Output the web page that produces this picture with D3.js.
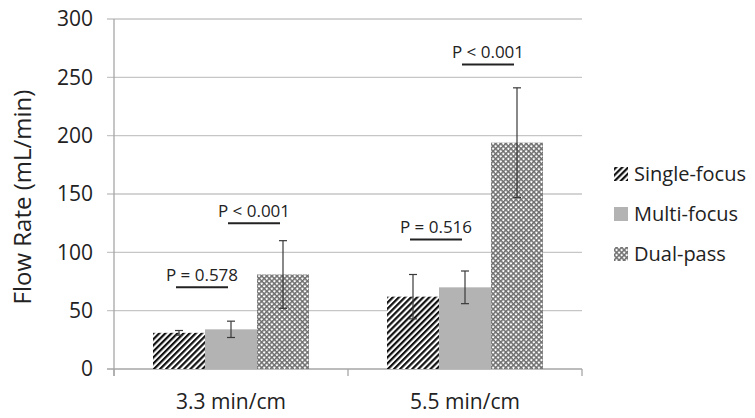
<!DOCTYPE html>
<html>
<head>
<meta charset="utf-8">
<script src="https://cdn.jsdelivr.net/npm/d3@7"></script>
<style>
  body { margin: 0; background: #fff; }
  svg { display: block; font-family: "Open Sans", sans-serif; }
  text { fill: #222; }
</style>
</head>
<body>
<div id="chart"></div>
<script>
const CATEGORIES = ['3.3 min/cm', '5.5 min/cm']
const SERIES = ['Single-focus', 'Multi-focus', 'Dual-pass']
// means and standard deviations, one array per category (in SERIES order)
const MEANS = [[31, 34, 81], [62, 70, 194]]
const ERRORS = [[2, 7, 29], [19, 14, 47]]
const Y_TICKS = [0, 50, 100, 150, 200, 250, 300]
// p-value brackets: category, from series, to series, y value, label
const P_LABELS = [
    { cat: 0, from: 0, to: 1, y: 70, text: 'P = 0.578' },
    { cat: 0, from: 1, to: 2, y: 125, text: 'P < 0.001' },
    { cat: 1, from: 0, to: 1, y: 111, text: 'P = 0.516' },
    { cat: 1, from: 1, to: 2, y: 261, text: 'P < 0.001' },
]

const W = 755, H = 418
const svg = d3.select('#chart').append('svg')
    .attr('width', W)
    .attr('height', H)

const defs = svg.append('defs')

// diagonal stripes for single-focus
const stripes = defs.append('pattern')
    .attr('id', 'stripes')
    .attr('patternUnits', 'userSpaceOnUse')
    .attr('width', 4.3)
    .attr('height', 4.3)
    .attr('patternTransform', 'rotate(45)')
stripes.append('rect').attr('width', 4.3).attr('height', 4.3).attr('fill', '#fff')
stripes.append('rect').attr('width', 2.2).attr('height', 4.3).attr('fill', '#111')

// diagonal crosshatch for dual-pass
const hatch = defs.append('pattern')
    .attr('id', 'hatch')
    .attr('patternUnits', 'userSpaceOnUse')
    .attr('width', 3.6)
    .attr('height', 3.6)
    .attr('patternTransform', 'rotate(45)')
hatch.append('rect').attr('width', 3.6).attr('height', 3.6).attr('fill', '#fff')
hatch.append('rect').attr('width', 1.5).attr('height', 3.6).attr('fill', '#6e6e6e')
hatch.append('rect').attr('width', 3.6).attr('height', 1.5).attr('fill', '#6e6e6e')

const FILLS = ['url(#stripes)', '#b3b3b3', 'url(#hatch)']

const x0 = d3.scaleBand()
    .domain(CATEGORIES)
    .range([114, 582])
    .padding(0)

const x1 = d3.scaleBand()
    .domain(SERIES)
    .range([0, x0.bandwidth()])
    .paddingInner(0)
    .paddingOuter(0.75)

const y = d3.scaleLinear()
    .domain([0, 300])
    .range([369, 19])

// gridlines
svg.append('g')
    .selectAll('line')
    .data(Y_TICKS)
    .join('line')
        .attr('x1', 107)
        .attr('x2', 582)
        .attr('y1', d => y(d))
        .attr('y2', d => y(d))
        .attr('stroke', d => d === 0 ? '#a6a6a6' : '#c6c6c6')
        .attr('stroke-width', 1.3)

// y axis line
svg.append('line')
    .attr('x1', 114).attr('x2', 114)
    .attr('y1', y(300)).attr('y2', y(0) + 7)
    .attr('stroke', '#a6a6a6')
    .attr('stroke-width', 1.3)

// category ticks
svg.append('g')
    .selectAll('line')
    .data([...CATEGORIES.map(c => x0(c)), 582])
    .join('line')
        .attr('x1', d => d).attr('x2', d => d)
        .attr('y1', y(0)).attr('y2', y(0) + 7)
        .attr('stroke', '#a6a6a6')
        .attr('stroke-width', 1.3)

// y tick labels
svg.append('g')
    .selectAll('text')
    .data(Y_TICKS)
    .join('text')
        .attr('x', 93)
        .attr('y', d => y(d))
        .attr('dy', '0.35em')
        .attr('text-anchor', 'end')
        .attr('font-size', 21)
        .text(d => d)

// category labels
svg.append('g')
    .selectAll('text')
    .data(CATEGORIES)
    .join('text')
        .attr('x', d => x0(d) + x0.bandwidth() / 2)
        .attr('y', 402)
        .attr('dy', '0.35em')
        .attr('text-anchor', 'middle')
        .attr('font-size', 21)
        .text(d => d)

// y axis title
svg.append('text')
    .attr('transform', `translate(23, ${(y(0) + y(300)) / 2 + 3}) rotate(-90)`)
    .attr('dy', '0.35em')
    .attr('text-anchor', 'middle')
    .attr('font-size', 24)
    .text('Flow Rate (mL/min)')

// bars
const groups = svg.append('g')
    .selectAll('g')
    .data(CATEGORIES)
    .join('g')
        .attr('transform', d => `translate(${x0(d)},0)`)

const cells = groups.selectAll('g')
    .data((c, ci) => SERIES.map((s, si) => ({ s, si, v: MEANS[ci][si], e: ERRORS[ci][si] })))
    .join('g')

cells.append('rect')
    .attr('x', d => x1(d.s))
    .attr('width', x1.bandwidth())
    .attr('y', d => y(d.v))
    .attr('height', d => y(0) - y(d.v))
    .attr('fill', d => FILLS[d.si])

// error bars
const cx = d => x1(d.s) + x1.bandwidth() / 2
cells.append('line')
    .attr('x1', cx).attr('x2', cx)
    .attr('y1', d => y(d.v + d.e)).attr('y2', d => y(d.v - d.e))
    .attr('stroke', '#3a3a3a')
    .attr('stroke-width', 1.2)
cells.selectAll('line.cap')
    .data(d => [d.v + d.e, d.v - d.e].map(v => ({ ...d, cv: v })))
    .join('line')
        .attr('class', 'cap')
        .attr('x1', d => cx(d) - 4).attr('x2', d => cx(d) + 4)
        .attr('y1', d => y(d.cv)).attr('y2', d => y(d.cv))
        .attr('stroke', '#3a3a3a')
        .attr('stroke-width', 1.2)

// p-value annotations
const pg = svg.append('g')
    .selectAll('g')
    .data(P_LABELS)
    .join('g')
const px = (d, si) => x0(CATEGORIES[d.cat]) + x1(SERIES[si]) + x1.bandwidth() / 2
pg.append('line')
    .attr('x1', d => px(d, d.from) - 3)
    .attr('x2', d => px(d, d.to) - 3)
    .attr('y1', d => y(d.y)).attr('y2', d => y(d.y))
    .attr('stroke', '#222')
    .attr('stroke-width', 2)
pg.append('text')
    .attr('x', d => (px(d, d.from) + px(d, d.to)) / 2 - 3)
    .attr('y', d => y(d.y) - 12)
    .attr('dy', '0.35em')
    .attr('text-anchor', 'middle')
    .attr('font-size', 17)
    .text(d => d.text)

// legend
const legend = svg.append('g')
    .selectAll('g')
    .data(SERIES)
    .join('g')
        .attr('transform', (d, i) => `translate(614, ${174 + 40 * i})`)
legend.append('rect')
    .attr('x', 0).attr('y', -7)
    .attr('width', 14).attr('height', 14)
    .attr('fill', (d, i) => FILLS[i])
legend.append('text')
    .attr('x', 20)
    .attr('dy', '0.35em')
    .attr('font-size', 20)
    .text(d => d)
</script>
</body>
</html>
